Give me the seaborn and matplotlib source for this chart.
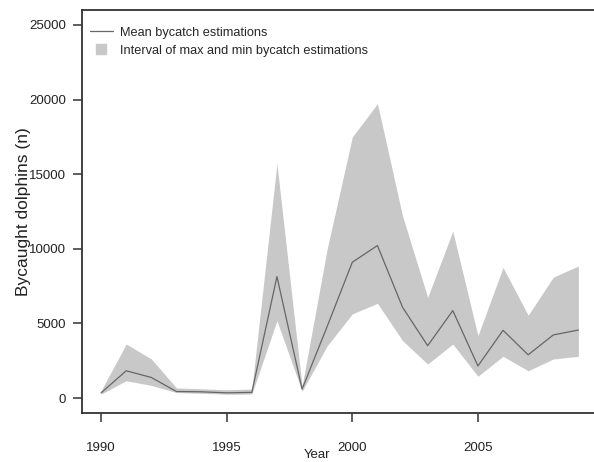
import matplotlib
matplotlib.use("Agg")
import matplotlib.pyplot as plt
import seaborn as sns
import pandas as pd
from matplotlib.lines import Line2D

# bycatch estimations per year
YEARS = list(range(1990, 2010))
MEAN_EST = [350, 1830, 1380, 440, 420, 350, 380, 8140, 600, 4800,
            9100, 10220, 6080, 3510, 5860, 2150, 4540, 2900, 4230, 4560]
MAX_EST = [500, 3620, 2620, 680, 620, 560, 600, 15700, 800, 10000,
           17490, 19730, 12200, 6750, 11180, 4180, 8750, 5550, 8100, 8850]
MIN_EST = [270, 1160, 850, 370, 320, 260, 270, 5190, 450, 3500,
           5640, 6350, 3850, 2280, 3620, 1460, 2800, 1830, 2620, 2800]
X_TICKS = [1990, 1995, 2000, 2005]
Y_TICKS = [0, 5000, 10000, 15000, 20000, 25000]

FILL = "#c8c8c8"
LINE = "#666666"
AXIS = "#333333"

sns.set_style("ticks")
plt.rcParams['font.family'] = ['Liberation Sans', 'DejaVu Sans']

df = pd.DataFrame({"Year": YEARS, "mean": MEAN_EST, "max": MAX_EST, "min": MIN_EST})

fig = plt.figure(figsize=(5.94, 4.62), dpi=100)
ax = fig.add_axes([82 / 594, 49 / 462, 515.5 / 594, 403 / 462])

ax.fill_between(df["Year"], df["min"], df["max"], color=FILL, linewidth=0, zorder=1)
sns.lineplot(data=df, x="Year", y="mean", ax=ax, color=LINE, linewidth=0.9, zorder=2)

ax.set_xlim(1989.24, 2009.76)
ax.set_ylim(-1000, 26000)
ax.set_xticks(X_TICKS)
ax.set_yticks(Y_TICKS)

for side in ["top", "left", "bottom", "right"]:
    ax.spines[side].set_visible(True)
    ax.spines[side].set_color(AXIS)
    ax.spines[side].set_linewidth(1.3)

ax.tick_params(axis="both", colors=AXIS, labelcolor="#222222", labelsize=9.5,
               length=6.5, width=1.1)
ax.tick_params(axis="x", pad=14.5)
ax.tick_params(axis="y", pad=5)

ax.set_ylabel("Bycaught dolphins (n)", fontsize=12.5, color="#222222")
ax.yaxis.set_label_coords(-0.114, 0.50)
ax.yaxis.label.set_verticalalignment("center")
ax.set_xlabel("Year", fontsize=9.5, color="#222222")
ax.xaxis.set_label_coords(0.456, -0.104)
ax.xaxis.label.set_verticalalignment("center")

handles = [
    Line2D([0], [0], color=LINE, linewidth=0.9),
    Line2D([0], [0], linestyle="none", marker="s", markersize=7.5,
           markerfacecolor=FILL, markeredgecolor=FILL),
]
ax.legend(handles, ["Mean bycatch estimations", "Interval of max and min bycatch estimations"],
          loc="upper left", bbox_to_anchor=(0.0, 0.978), frameon=False,
          fontsize=9.2, handlelength=1.8, handletextpad=0.55, labelspacing=0.5,
          borderaxespad=0.2)

fig.savefig("out.png", dpi=100)
